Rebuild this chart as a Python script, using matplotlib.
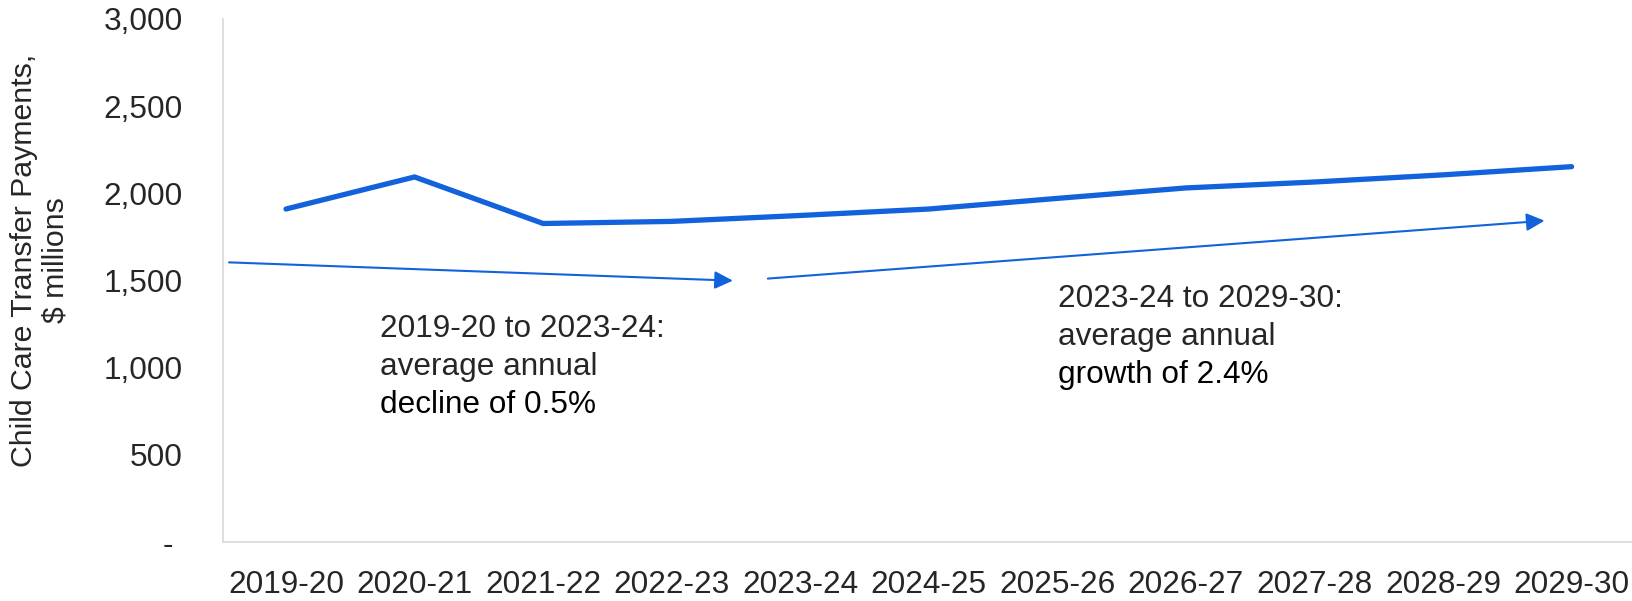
import numpy as np
import matplotlib.pyplot as plt

plt.rcParams['font.family'] = ['Liberation Sans', 'DejaVu Sans']

years = ['2019-20', '2020-21', '2021-22', '2022-23', '2023-24', '2024-25',
         '2025-26', '2026-27', '2027-28', '2028-29', '2029-30']
payments = [1910, 2094, 1827, 1839, 1873, 1910, 1971, 2031, 2065, 2106, 2153]

yticks = [0, 500, 1000, 1500, 2000, 2500, 3000]
ytick_labels = ['- ', '500', '1,000', '1,500', '2,000', '2,500', '3,000']

blue = '#1262DC'
txt = '#262626'
fs = 22.7

fig = plt.figure(figsize=(16.32, 6.01), dpi=100)
ax = fig.add_axes([223/1632, 59/601, 1 - 223/1632, 523/601])

x = np.arange(len(years))
ax.plot(x, payments, color=blue, lw=3.8, solid_capstyle='round', solid_joinstyle='miter')

ax.set_xlim(-0.49, 10.47)
ax.set_ylim(0, 3000)
ax.set_xticks(x)
ax.set_xticklabels(years, fontsize=fs, color=txt)
ax.set_yticks(yticks)
ax.set_yticklabels(ytick_labels, fontsize=fs, color=txt)
ax.tick_params(axis='both', length=0)
ax.tick_params(axis='y', pad=29)
ax.tick_params(axis='x', pad=20)

for s in ['top', 'right']:
    ax.spines[s].set_visible(False)
for s in ['left', 'bottom']:
    ax.spines[s].set_color('#d9d9d9')
    ax.spines[s].set_linewidth(1.2)

# trend arrows
arrow = dict(arrowstyle='-|>,head_length=0.55,head_width=0.27', color=blue,
             lw=1.5, mutation_scale=20, shrinkA=0, shrinkB=0)
ax.annotate('', xy=(3.476, 1499), xytext=(-0.443, 1604), arrowprops=arrow)
ax.annotate('', xy=(9.79, 1843), xytext=(3.748, 1511), arrowprops=arrow)

# annotation text
ax.text(0.731, 1176, '2019-20 to 2023-24:', fontsize=fs, color=txt, va='baseline')
ax.text(0.731, 958, 'average annual', fontsize=fs, color=txt, va='baseline')
ax.text(0.731, 740, 'decline of 0.5%', fontsize=fs, color='black', va='baseline')

ax.text(6.003, 1348, '2023-24 to 2029-30:', fontsize=fs, color=txt, va='baseline')
ax.text(6.003, 1130, 'average annual', fontsize=fs, color=txt, va='baseline')
ax.text(6.003, 912, 'growth of 2.4%', fontsize=fs, color='black', va='baseline')

fig.text(39.5/1632, 1 - 260/601, 'Child Care Transfer Payments,\n$ millions',
         rotation=90, ha='center', va='center', multialignment='center',
         fontsize=21.8, color=txt, linespacing=1.15)

fig.savefig('out.png', dpi=100)
